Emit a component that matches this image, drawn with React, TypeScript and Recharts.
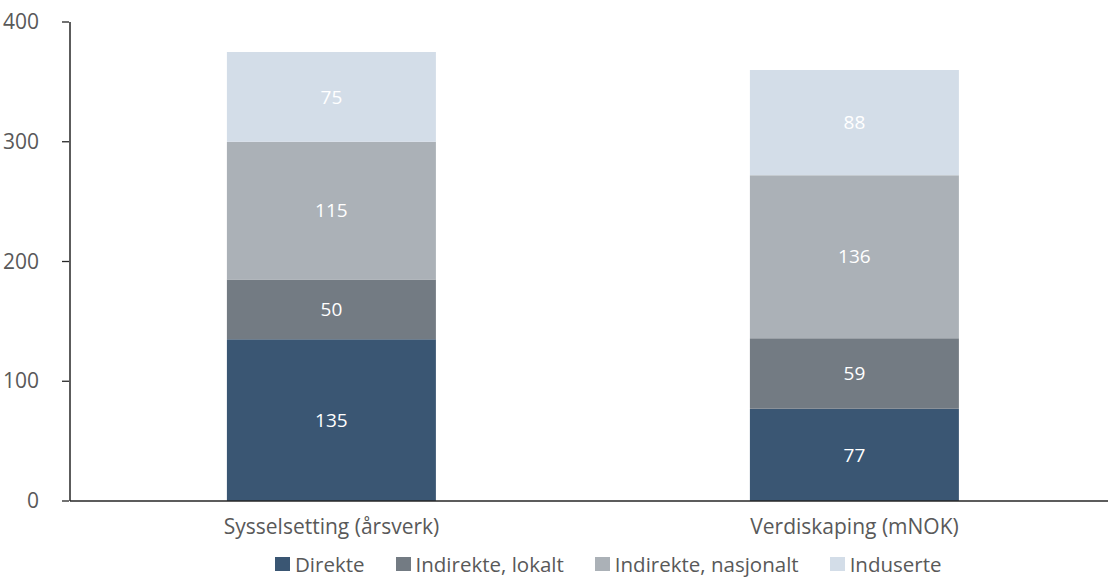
import { BarChart, Bar, XAxis, YAxis, LabelList } from "recharts";

const categories = ["Sysselsetting (årsverk)", "Verdiskaping (mNOK)"];
const direkte = [135, 77];
const indirekteLokalt = [50, 59];
const indirekteNasjonalt = [115, 136];
const induserte = [75, 88];
const yTicks = [0, 100, 200, 300, 400];

const SERIES = [
  { key: "direkte", name: "Direkte", color: "#3a5673" },
  { key: "lokalt", name: "Indirekte, lokalt", color: "#737b83" },
  { key: "nasjonalt", name: "Indirekte, nasjonalt", color: "#abb1b7" },
  { key: "induserte", name: "Induserte", color: "#d3dde8" },
];

const data = categories.map((name, i) => ({
  name,
  direkte: direkte[i],
  lokalt: indirekteLokalt[i],
  nasjonalt: indirekteNasjonalt[i],
  induserte: induserte[i],
}));

const FONT = "'Open Sans', sans-serif";
const TEXT = "#595959";

function YTick(props: any) {
  const { x, y, payload } = props;
  return (
    <g>
      <line x1={x} x2={x + 7} y1={y} y2={y} stroke="#262626" strokeWidth={1.3} />
      <text x={x - 23} y={y} dy={7} textAnchor="end" fill={TEXT} fontSize={21} fontFamily={FONT}>
        {payload.value}
      </text>
    </g>
  );
}

function ChartLegend() {
  return (
    <div
      style={{
        position: "absolute",
        left: 275,
        top: 553,
        display: "flex",
        gap: 31,
        fontFamily: FONT,
        fontSize: 20.5,
        color: TEXT,
        lineHeight: "22px",
      }}
    >
      {SERIES.map((s) => (
        <div key={s.key} style={{ display: "flex", alignItems: "center", gap: 5 }}>
          <span style={{ width: 15, height: 14, background: s.color, display: "inline-block" }} />
          <span>{s.name}</span>
        </div>
      ))}
    </div>
  );
}

export default function App() {
  return (
    <div style={{ position: "fixed", left: 0, top: 0, width: 1108, height: 578, overflow: "hidden", background: "#fff" }}>
      <BarChart width={1116} height={578} data={data} margin={{ top: 22, right: 0, left: 0, bottom: 47 }} barCategoryGap="30%">
        <YAxis
          width={70}
          domain={[0, 400]}
          ticks={yTicks}
          interval={0}
          tickLine={false}
          axisLine={{ stroke: "#262626", strokeWidth: 1.5 }}
          tick={<YTick />}
        />
        <XAxis
          dataKey="name"
          height={30}
          tickLine={false}
          axisLine={{ stroke: "#262626", strokeWidth: 1.5 }}
          tick={{ fill: TEXT, fontSize: 21, fontFamily: FONT }}
          tickMargin={12}
        />
        {SERIES.map((s) => (
          <Bar key={s.key} dataKey={s.key} name={s.name} stackId="a" fill={s.color} isAnimationActive={false}>
            <LabelList dataKey={s.key} position="center" fill="#ffffff" fontSize={19} fontFamily={FONT} />
          </Bar>
        ))}
      </BarChart>
      <ChartLegend />
    </div>
  );
}
